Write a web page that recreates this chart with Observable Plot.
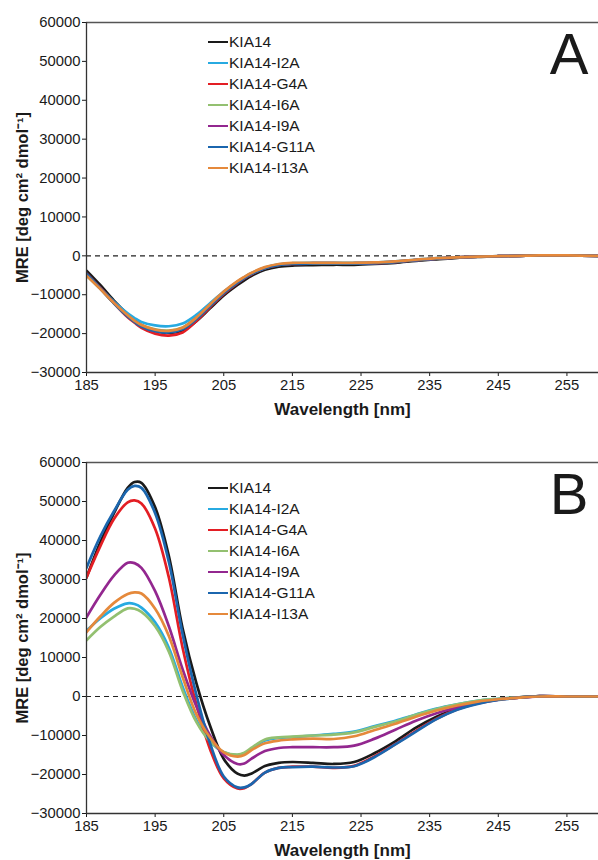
<!DOCTYPE html>
<html><head><meta charset="utf-8">
<script src="https://cdn.jsdelivr.net/npm/d3@7"></script>
<script src="https://cdn.jsdelivr.net/npm/@observablehq/plot@0.6"></script>
<style>
body{margin:0;background:#fff;font-family:"Liberation Sans",Arial,sans-serif;}
#wrap{width:598px;}
.panel{position:relative;width:598px;}
.panel svg{display:block;}
.legend{position:absolute;left:208px;font-size:15.5px;color:#1a1a1a;}
.legend .row{height:21px;display:flex;align-items:center;white-space:nowrap;}
.legend .sw{display:inline-block;width:20px;height:2.8px;margin-right:1px;}
</style></head><body><div id="wrap"></div><script>
const seriesNames = ["KIA14","KIA14-I2A","KIA14-G4A","KIA14-I6A","KIA14-I9A","KIA14-G11A","KIA14-I13A"];
const seriesColors = ["#1a1a1a","#27aae1","#e31e24","#93c070","#93278f","#1b66ae","#e5893b"];
const xTicks = [185,195,205,215,225,235,245,255];
const yTicks = [-30000,-20000,-10000,0,10000,20000,30000,40000,50000,60000];
const wavelength = [185,187,189,191,192,193,195,197,199,201,203,205,207,208,209,211,213,215,218,221,224,227,230,233,236,239,242,245,248,251,255,260];

// Panel A
const a_KIA14 = [-3800,-7500,-11500,-15000,-16500,-17800,-19300,-19800,-19200,-16800,-13500,-10200,-7500,-6300,-5200,-3600,-2800,-2500,-2400,-2300,-2300,-2100,-1800,-1300,-900,-500,-300,-100,0,100,100,0];
const a_I2A   = [-5000,-8300,-11800,-14800,-16000,-17000,-17900,-18100,-17400,-15200,-12200,-9200,-6600,-5500,-4500,-3000,-2200,-1900,-1800,-1800,-1800,-1700,-1400,-1000,-600,-400,-200,-100,0,100,100,0];
const a_G4A   = [-4500,-8200,-12200,-15800,-17200,-18500,-20000,-20500,-19700,-16800,-13200,-9800,-7000,-5800,-4800,-3200,-2400,-2100,-2000,-2000,-2000,-1900,-1600,-1100,-700,-400,-200,-100,0,100,100,0];
const a_I6A   = [-5000,-8500,-12200,-15400,-16700,-17800,-18900,-19200,-18400,-15900,-12600,-9400,-6700,-5600,-4600,-3100,-2300,-2000,-1900,-1900,-1900,-1800,-1500,-1100,-700,-400,-200,-100,0,100,100,0];
const a_I9A   = [-4800,-8400,-12100,-15400,-16800,-17900,-19100,-19400,-18600,-16000,-12700,-9400,-6700,-5600,-4600,-3100,-2300,-2000,-1900,-1900,-1900,-1800,-1500,-1100,-700,-400,-200,-100,0,100,100,0];
const a_G11A  = [-4600,-8300,-12200,-15600,-17000,-18200,-19400,-19700,-18900,-16300,-12900,-9600,-6900,-5700,-4700,-3200,-2400,-2100,-2000,-2000,-2000,-1900,-1600,-1100,-700,-400,-200,-100,0,100,100,0];
const a_I13A  = [-5100,-8500,-12100,-15300,-16700,-17800,-19000,-19300,-18500,-15900,-12500,-9200,-6500,-5400,-4400,-2900,-2100,-1800,-1800,-1800,-1800,-1700,-1400,-1000,-600,-400,-200,-100,0,100,100,0];

// Panel B
const b_KIA14 = [30500,39500,47000,53500,55000,54800,48500,36000,17500,3500,-7500,-16000,-19800,-20300,-19800,-17800,-17000,-16800,-17000,-17300,-16800,-14500,-11500,-8000,-5200,-3000,-1600,-700,-200,100,0,0];
const b_I2A   = [16900,20000,22500,23900,23700,22800,19000,12500,2500,-6000,-11500,-14300,-15000,-14600,-13500,-11300,-10600,-10400,-10000,-9600,-9000,-7600,-6200,-4600,-3100,-2000,-1100,-600,-200,0,0,0];
const b_G4A   = [30500,38500,45500,49800,50300,49500,43000,30500,12500,-2000,-13500,-21000,-23600,-23500,-22500,-19500,-18300,-18000,-18000,-18300,-17800,-15300,-12200,-8800,-5700,-3300,-1800,-800,-300,100,0,0];
const b_I6A   = [14400,17800,20500,22600,22500,21700,18000,11500,1500,-6500,-11500,-14200,-14900,-14400,-13200,-11000,-10500,-10300,-10000,-9800,-9200,-7800,-6400,-4700,-3200,-2000,-1100,-600,-200,0,0,0];
const b_I9A   = [20300,26000,31000,34300,34200,33000,27000,18000,7000,-2500,-10000,-15000,-17300,-17200,-16000,-14000,-13200,-13000,-13000,-13000,-12600,-10800,-8500,-6200,-4300,-2800,-1600,-800,-300,0,0,0];
const b_G11A  = [33000,41000,47500,53000,54000,53500,47000,34500,16000,500,-12000,-20500,-23300,-23300,-22500,-19500,-18300,-18100,-18000,-18200,-17900,-15500,-12300,-9000,-5800,-3400,-1900,-900,-300,100,0,0];
const b_I13A  = [16500,20500,24000,26300,26700,26400,22500,15500,5000,-4500,-10500,-14300,-15400,-15000,-13800,-12000,-11300,-11000,-10800,-10900,-10200,-8600,-7000,-5200,-3600,-2300,-1300,-700,-300,0,0,0];

function makePanel(arrays, letter, height, marginBottom, legendTop) {
  const rows = [];
  seriesNames.forEach((n, i) => wavelength.forEach((w, j) => rows.push({series: n, wavelength: w, mre: arrays[i][j]})));
  const svg = Plot.plot({
    width: 598, height, marginTop: 22, marginBottom, marginLeft: 86, marginRight: 0,
    style: {fontFamily: "Liberation Sans, Arial, sans-serif", fontSize: "14.8px", color: "#1a1a1a", background: "#fff"},
    x: {domain: [185, 259.6], ticks: xTicks, tickSize: 4, tickPadding: 3, tickFormat: "d", label: null},
    y: {domain: [-30000, 60000], ticks: yTicks, tickSize: 4, tickPadding: 2, tickFormat: "d", label: null},
    color: {domain: seriesNames, range: seriesColors},
    marks: [
      Plot.ruleY([0], {stroke: "#222", strokeWidth: 1.2, strokeDasharray: "5,4"}),
      Plot.line(rows, {x: "wavelength", y: "mre", z: "series", stroke: "series", strokeWidth: 2.7, curve: "catmull-rom", clip: true}),
      Plot.ruleY([60000], {stroke: "#555", strokeWidth: 1.5}),
      Plot.ruleY([-30000], {stroke: "#333", strokeWidth: 1.3}),
      Plot.ruleX([185], {stroke: "#333", strokeWidth: 1.3}),
      Plot.text([letter], {frameAnchor: "top-right", textAnchor: "end", lineAnchor: "top", dx: -10, dy: 10, fontSize: 58, fill: "#1a1a1a"}),
      Plot.text(["Wavelength [nm]"], {frameAnchor: "bottom", textAnchor: "middle", lineAnchor: "middle", dy: 37, fontWeight: "bold", fontSize: 17, fill: "#1a1a1a"}),
      Plot.text(["MRE [deg cm² dmol⁻¹]"], {frameAnchor: "left", textAnchor: "middle", rotate: -90, dx: -64, fontWeight: "bold", fontSize: 16.5, fill: "#1a1a1a"})
    ]
  });
  const div = document.createElement("div");
  div.className = "panel";
  div.appendChild(svg);
  const leg = document.createElement("div");
  leg.className = "legend";
  leg.style.top = legendTop + "px";
  seriesNames.forEach((n, i) => {
    const r = document.createElement("div");
    r.className = "row";
    const sw = document.createElement("span");
    sw.className = "sw";
    sw.style.background = seriesColors[i];
    r.appendChild(sw);
    r.appendChild(document.createTextNode(n));
    leg.appendChild(r);
  });
  div.appendChild(leg);
  return div;
}

const wrap = document.getElementById("wrap");
wrap.appendChild(makePanel([a_KIA14, a_I2A, a_G4A, a_I6A, a_I9A, a_G11A, a_I13A], "A", 440, 68, 31.5));
wrap.appendChild(makePanel([b_KIA14, b_I2A, b_G4A, b_I6A, b_I9A, b_G11A, b_I13A], "B", 420, 47, 37.5));
</script></body></html>
